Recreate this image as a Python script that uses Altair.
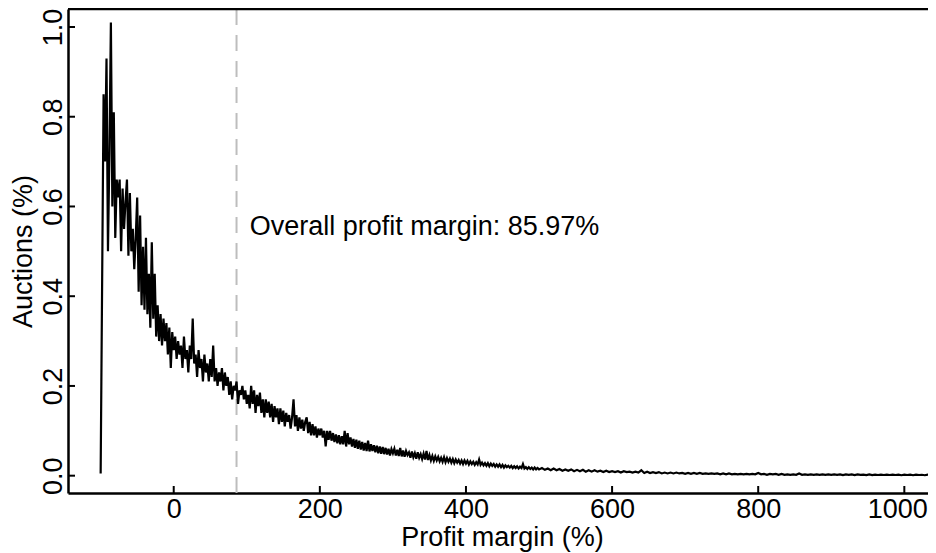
import altair as alt
import pandas as pd

# ---------------- data ----------------
first_x = [-100]
first_y = [0.005]

seg_a_start, seg_a_step = -96, 2
seg_a = [
    0.85, 0.70, 0.93, 0.50, 0.72, 1.01, 0.60, 0.81, 0.53, 0.66,
    0.62, 0.66, 0.50, 0.64, 0.55, 0.61, 0.66, 0.49, 0.63, 0.50,
    0.55, 0.46, 0.53, 0.62, 0.41, 0.58, 0.38, 0.51, 0.37, 0.53,
    0.36, 0.45, 0.33, 0.52, 0.35, 0.45, 0.31, 0.38, 0.30, 0.36,
    0.29, 0.35, 0.30, 0.34, 0.27, 0.33, 0.24, 0.32, 0.28, 0.31,
    0.26, 0.30, 0.27, 0.29, 0.24, 0.31, 0.26, 0.28, 0.23, 0.29,
    0.26, 0.35, 0.25, 0.27, 0.22, 0.28, 0.24, 0.26, 0.21, 0.27,
    0.23, 0.25, 0.21, 0.26, 0.22, 0.29, 0.21, 0.24, 0.20, 0.23,
    0.21, 0.24, 0.19, 0.23, 0.20, 0.22, 0.18, 0.21, 0.17, 0.20,
    0.19, 0.21, 0.16, 0.19, 0.18, 0.20, 0.17, 0.19, 0.16, 0.18,
    0.15, 0.20, 0.16, 0.19, 0.14, 0.18, 0.155, 0.185, 0.14, 0.17,
    0.13, 0.17, 0.14, 0.165, 0.13, 0.16, 0.12, 0.155, 0.13, 0.15,
    0.115, 0.15, 0.12, 0.145, 0.11, 0.14, 0.12, 0.135, 0.105, 0.13,
    0.17, 0.11, 0.135, 0.10, 0.13, 0.105, 0.125, 0.10, 0.12, 0.13,
    0.095, 0.12, 0.09, 0.115, 0.09, 0.11, 0.085, 0.105, 0.09, 0.105,
    0.085, 0.10, 0.065, 0.10, 0.08, 0.10, 0.078, 0.095, 0.075, 0.092,
    0.072, 0.09, 0.07, 0.088, 0.07, 0.10, 0.065, 0.095, 0.07, 0.085,
    0.065, 0.082, 0.062, 0.08, 0.06, 0.078, 0.058, 0.075, 0.056, 0.073,
    0.055, 0.078, 0.054, 0.07, 0.055, 0.068, 0.052, 0.067, 0.05, 0.065,
    0.049, 0.064, 0.048, 0.062, 0.047, 0.06, 0.045, 0.059, 0.05,
]

seg_b_start, seg_b_step = 302, 2
seg_b = [
    0.06, 0.045, 0.058, 0.044, 0.062, 0.043, 0.056, 0.042, 0.055, 0.046,
    0.052, 0.04, 0.054, 0.041, 0.05, 0.038, 0.052, 0.04, 0.048, 0.037,
    0.049, 0.036, 0.055, 0.035, 0.046, 0.034, 0.044, 0.033, 0.043, 0.034,
    0.042, 0.032, 0.04, 0.031, 0.041, 0.03, 0.039, 0.031, 0.038, 0.029,
    0.037, 0.028, 0.036, 0.029, 0.035, 0.027, 0.034, 0.026, 0.034, 0.027,
    0.033, 0.025, 0.032, 0.026, 0.031, 0.024, 0.03, 0.025, 0.036, 0.024,
    0.029, 0.023, 0.028, 0.022, 0.028, 0.021, 0.027, 0.022, 0.026, 0.02,
    0.025, 0.02, 0.025, 0.019, 0.024, 0.018, 0.023, 0.019, 0.022, 0.018,
    0.022, 0.017, 0.021, 0.017, 0.021, 0.016, 0.02, 0.017, 0.026, 0.016,
    0.019, 0.015, 0.019, 0.015, 0.018, 0.014, 0.018, 0.014, 0.017, 0.014,
]

seg_c_start, seg_c_step = 504, 4
seg_c = [
    0.017, 0.013, 0.016, 0.012, 0.016, 0.012, 0.015, 0.011, 0.014, 0.011,
    0.014, 0.01, 0.013, 0.01, 0.013, 0.009, 0.012, 0.009, 0.012, 0.009,
    0.011, 0.008, 0.011, 0.008, 0.01, 0.008, 0.01, 0.007, 0.01, 0.008,
    0.009, 0.007, 0.009, 0.007, 0.012, 0.006, 0.009, 0.006, 0.008, 0.006,
    0.008, 0.005, 0.007, 0.005, 0.007, 0.005, 0.007, 0.005, 0.006, 0.004,
    0.006, 0.004, 0.006, 0.004, 0.006, 0.004, 0.005, 0.004, 0.005, 0.004,
    0.005, 0.003, 0.005, 0.003, 0.005, 0.003, 0.004, 0.003, 0.004, 0.003,
    0.004, 0.003, 0.004, 0.003, 0.006, 0.003, 0.004, 0.002, 0.004, 0.003,
    0.004, 0.002, 0.004, 0.002, 0.003, 0.002, 0.003, 0.002, 0.005, 0.002,
    0.003, 0.002, 0.003, 0.002, 0.003, 0.002, 0.003, 0.002, 0.003, 0.002,
    0.003, 0.002, 0.003, 0.0015, 0.003, 0.002, 0.003, 0.0015, 0.003, 0.002,
    0.0025, 0.0015, 0.003, 0.0015, 0.0025, 0.0015, 0.0025, 0.0015, 0.0025, 0.0015,
    0.0025, 0.0015, 0.0025, 0.001, 0.0025, 0.0015, 0.0025, 0.001, 0.0025, 0.0015,
    0.002, 0.001, 0.0025, 0.0015, 0.002, 0.001, 0.002,
]

overall_margin = [85.97]
annotation_x = [104]
annotation_y = [0.5365]
annotation_text = ["Overall profit margin: 85.97%"]

x_ticks = [0, 200, 400, 600, 800, 1000]
y_ticks = [0.0, 0.2, 0.4, 0.6, 0.8, 1.0]

# ---------------- build table ----------------
xs = list(first_x)
ys = list(first_y)
for start, step, vals in [(seg_a_start, seg_a_step, seg_a),
                          (seg_b_start, seg_b_step, seg_b),
                          (seg_c_start, seg_c_step, seg_c)]:
    for i, v in enumerate(vals):
        xs.append(start + step * i)
        ys.append(v)

df_line = pd.DataFrame({"margin": xs, "share": ys})

FONT = "Liberation Sans"
FS = 27
W, H = 860, 484

x_scale = alt.Scale(domain=[-144.7, 1032.4], nice=False, zero=False)
y_scale = alt.Scale(domain=[-0.0386, 1.0401], nice=False, zero=False)

x_axis = alt.Axis(
    values=x_ticks, format="d", ticks=False, grid=False,
    domain=True, domainColor="black", domainWidth=2.5,
    labelFont=FONT, labelFontSize=FS, labelColor="black", labelPadding=3,
    labelFlush=30, labelFlushOffset=23, labelOverlap=False,
    title="Profit margin (%)", titleFont=FONT, titleFontSize=FS,
    titleFontWeight="normal", titleColor="black",
    titleX=434, titleY=52, titleAlign="center", titleBaseline="alphabetic",
)
y_axis = alt.Axis(
    values=y_ticks, format=".1f", ticks=False, grid=False,
    domain=True, domainColor="black", domainWidth=2.5,
    labelFont=FONT, labelFontSize=FS, labelColor="black", labelPadding=7,
    labelAngle=270, labelAlign="center", labelBaseline="alphabetic",
    labelFlush=False, labelOverlap=False,
    title="Auctions (%)", titleFont=FONT, titleFontSize=FS,
    titleFontWeight="normal", titleColor="black",
    titleAngle=270, titleX=-37, titleY=242, titleAlign="center",
    titleBaseline="alphabetic",
)

X = alt.X("margin:Q", scale=x_scale, axis=x_axis)
Y = alt.Y("share:Q", scale=y_scale, axis=y_axis)

line = alt.Chart(df_line).mark_line(color="black", strokeWidth=2.2, clip=True).encode(x=X, y=Y)

vline = alt.Chart(pd.DataFrame({"margin": overall_margin})).mark_rule(
    color="#bdbdbd", strokeWidth=2, strokeDash=[16, 10]
).encode(x=X)

label = alt.Chart(pd.DataFrame({"margin": annotation_x, "share": annotation_y,
                                "txt": annotation_text})).mark_text(
    align="left", baseline="alphabetic", font=FONT, fontSize=FS, color="black"
).encode(x=X, y=Y, text="txt:N")

xticks = alt.Chart(pd.DataFrame({"margin": x_ticks})).mark_rule(
    color="black", strokeWidth=2
).encode(x=X, y=alt.value(H - 7), y2=alt.value(H))

yticks = alt.Chart(pd.DataFrame({"share": y_ticks})).mark_rule(
    color="black", strokeWidth=2
).encode(y=Y, x=alt.value(0), x2=alt.value(7))

top_border = alt.Chart(pd.DataFrame({"k": [0]})).mark_rule(
    color="black", strokeWidth=2.5
).encode(x=alt.value(0), x2=alt.value(W), y=alt.value(0))

chart = alt.layer(vline, line, label, xticks, yticks, top_border).properties(
    width=W, height=H,
    autosize=alt.AutoSizeParams(type="none"),
    padding={"left": 60, "top": 1, "right": 0, "bottom": 60},
).configure_view(stroke=None)

chart.save("out.html", embed_options={"renderer": "svg", "actions": False})
